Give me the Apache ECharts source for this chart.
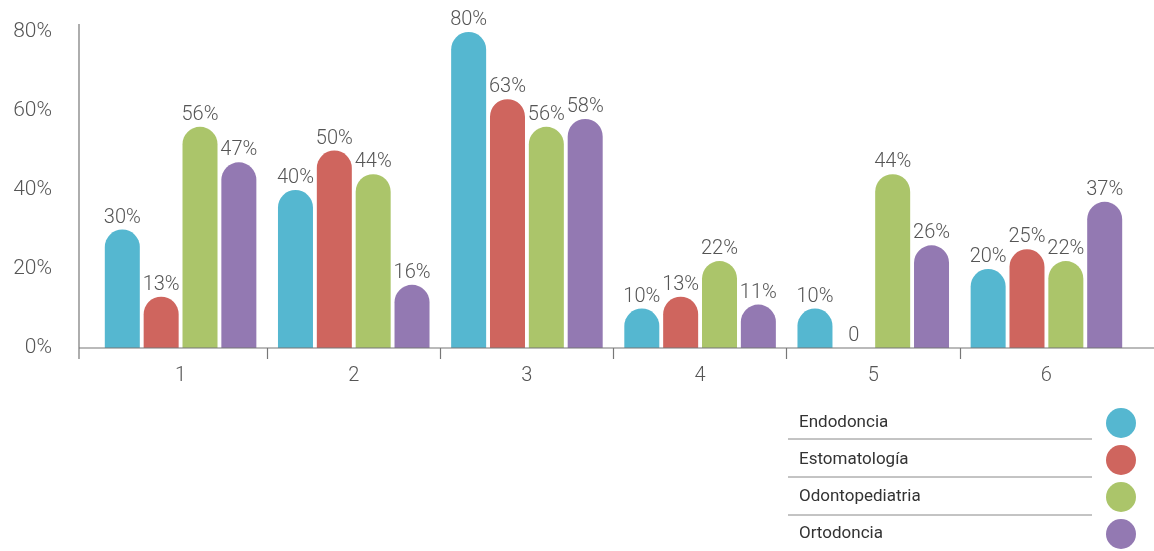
<!DOCTYPE html>
<html>
<head>
<meta charset="utf-8">
<script src="https://cdn.jsdelivr.net/npm/echarts@6/dist/echarts.min.js"></script>
<style>
html,body{margin:0;padding:0;background:#fff;}
#c{width:1154px;height:551px;}
</style>
</head>
<body>
<div id="c"></div>
<script>
const categories = ['1', '2', '3', '4', '5', '6'];
const endodoncia = [30, 40, 80, 10, 10, 20];
const estomatologia = [13, 50, 63, 13, 0, 25];
const odontopediatria = [56, 44, 56, 22, 44, 22];
const ortodoncia = [47, 16, 58, 11, 26, 37];
const seriesNames = ['Endodoncia', 'Estomatología', 'Odontopediatria', 'Ortodoncia'];
const colors = ['#55b7d0', '#cf655e', '#abc56a', '#9379b2'];
const yTicks = [0, 20, 40, 60, 80];

const FONT = 'Roboto';
const chart = echarts.init(document.getElementById('c'), null, {renderer: 'canvas'});

const GL = 94, GR = 21, GT = 32, GB = 203;
const dataSets = [endodoncia, estomatologia, odontopediatria, ortodoncia];

const series = dataSets.map((d, i) => ({
  name: seriesNames[i],
  type: 'bar',
  data: d,
  barWidth: 35,
  barGap: '11%',
  itemStyle: {color: colors[i], borderRadius: [17.5, 17.5, 0, 0]},
  label: {
    show: true,
    position: 'top',
    distance: 2,
    color: '#555',
    fontFamily: FONT,
    fontWeight: 300,
    fontSize: 20,
    formatter: p => p.value === 0 ? '0' : p.value + '%'
  }
}));

const lineStyle = {stroke: '#777', lineWidth: 1.2};
const H = 551;
const axisY = H - GB; // 348
const graphics = [
  {type: 'line', shape: {x1: 79, y1: 24, x2: 79, y2: axisY + 11}, style: lineStyle, silent: true, z: 10},
  {type: 'line', shape: {x1: 79, y1: axisY, x2: 1154, y2: axisY}, style: lineStyle, silent: true, z: 10}
];
[439, 477, 515].forEach(y => {
  graphics.push({type: 'line', shape: {x1: 788, y1: y, x2: 1092, y2: y}, style: {stroke: '#888', lineWidth: 1}, silent: true});
});

chart.setOption({
  animation: false,
  color: colors,
  grid: {left: GL, right: GR, top: GT, bottom: GB, containLabel: false},
  legend: {
    orient: 'vertical',
    left: 799,
    top: 408,
    padding: 0,
    icon: 'circle',
    itemWidth: 30,
    itemHeight: 30,
    itemGap: 7,
    align: 'right',
    selectedMode: false,
    data: seriesNames,
    formatter: '{n|{name}}',
    textStyle: {
      color: '#333',
      fontFamily: FONT,
      fontSize: 17,
      rich: {n: {width: 302, align: 'left', color: '#333', fontFamily: FONT, fontSize: 17}}
    }
  },
  xAxis: [{
    type: 'category',
    data: categories,
    axisLine: {show: false},
    axisTick: {show: false},
    axisLabel: {color: '#555', fontFamily: FONT, fontWeight: 300, fontSize: 20, margin: 18}
  }, {
    type: 'value',
    min: 0,
    max: 6,
    position: 'bottom',
    axisLine: {show: false},
    axisLabel: {show: false},
    splitLine: {show: false},
    axisTick: {show: true, length: 11, customValues: [1, 2, 3, 4, 5], lineStyle: {color: '#777', width: 1.2}}
  }],
  yAxis: {
    type: 'value',
    min: 0,
    max: 80,
    interval: 20,
    axisLine: {show: false},
    axisTick: {show: false},
    splitLine: {show: false},
    axisLabel: {
      color: '#555', fontFamily: FONT, fontWeight: 300, fontSize: 21, margin: 42,
      customValues: yTicks,
      formatter: v => v + '%'
    }
  },
  series: series,
  graphic: graphics
});
</script>
</body>
</html>
